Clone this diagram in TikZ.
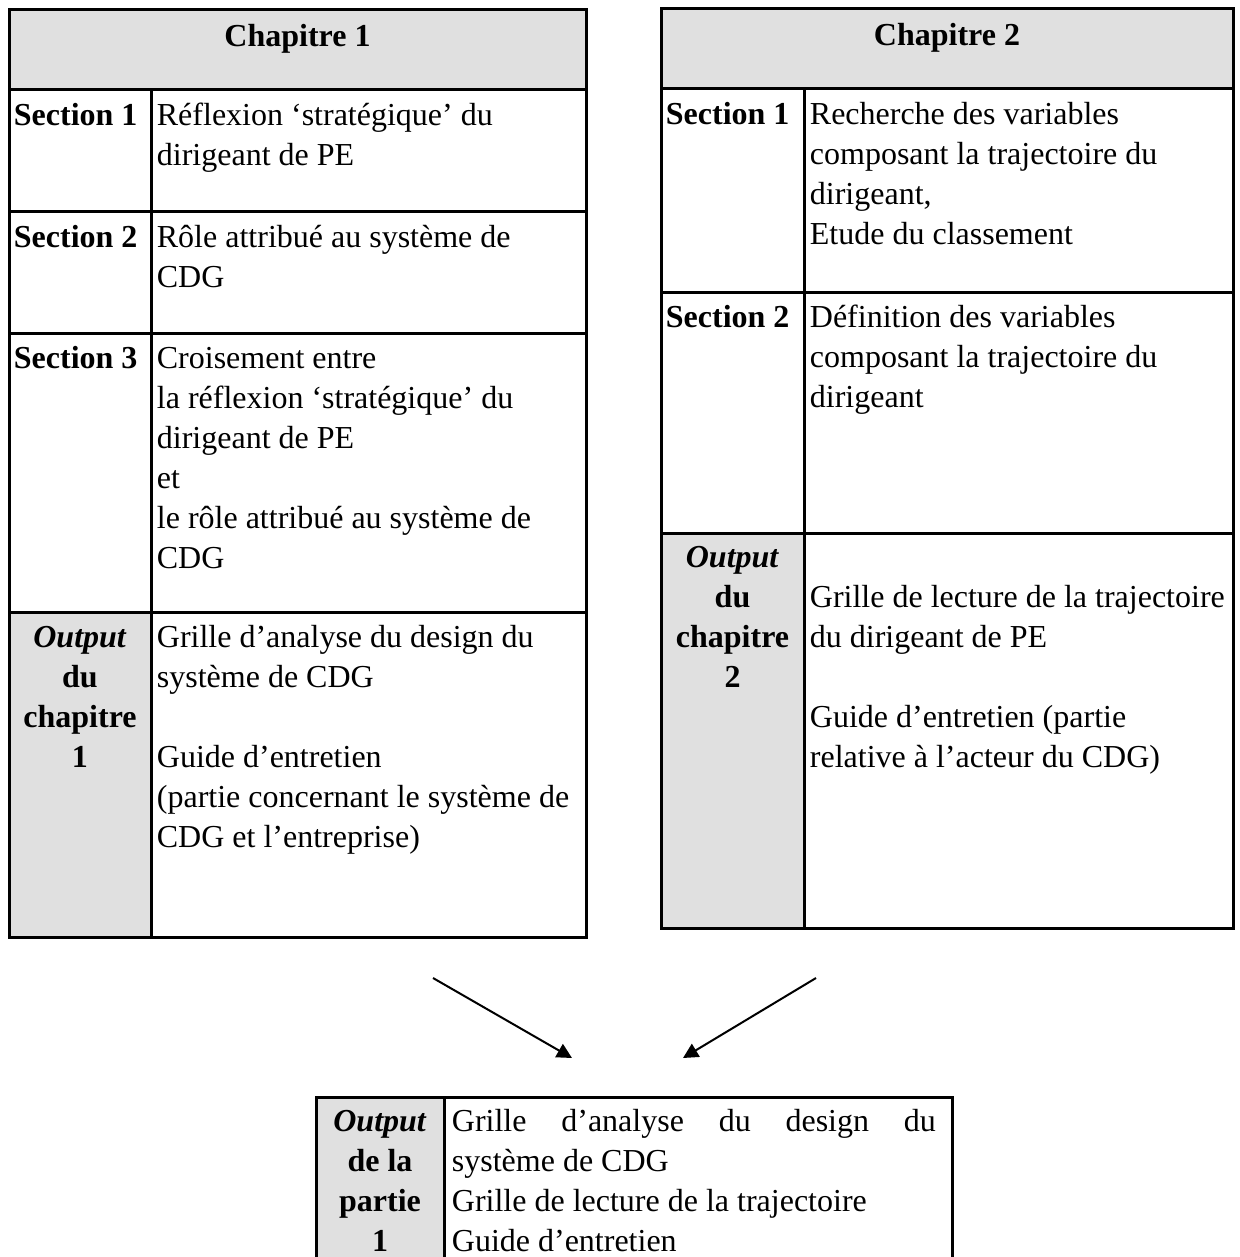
\documentclass[tikz,border=0pt]{standalone}
\usepackage{fontspec}
\setmainfont{Liberation Serif}
\usetikzlibrary{arrows.meta,calc,fit}
\definecolor{cellgrey}{HTML}{E0E0E0}
\tikzset{
  cellbox/.style={draw, line width=1.5pt, inner sep=0pt},
  greycell/.style={cellbox, fill=cellgrey},
  celltext/.style={font=\fontsize{16}{20}\selectfont, inner sep=0pt, align=left, anchor=north west},
  labeltext/.style={font=\fontsize{16}{20}\selectfont\bfseries, inner sep=0pt, align=center, anchor=north},
  flow/.style={line width=1pt, -{Triangle[length=7.5pt,width=7.5pt]}}
}
\begin{document}
\begin{tikzpicture}[x=0.5pt, y=-0.5pt]
\useasboundingbox (0,0) rectangle (1239,1257);

% Chapitre 1
\node[greycell, fit={(9,10) (586,90)}] (ch1head) {};
\node[cellbox, fit={(9,90) (151,212)}] (ch1s1lab) {};
\node[cellbox, fit={(151,90) (586,212)}] (ch1s1txt) {};
\node[cellbox, fit={(9,212) (151,333)}] (ch1s2lab) {};
\node[cellbox, fit={(151,212) (586,333)}] (ch1s2txt) {};
\node[cellbox, fit={(9,333) (151,612)}] (ch1s3lab) {};
\node[cellbox, fit={(151,333) (586,612)}] (ch1s3txt) {};
\node[greycell, fit={(9,612) (151,937)}] (ch1outlab) {};
\node[cellbox, fit={(151,612) (586,937)}] (ch1outtxt) {};

\node[labeltext] (ch1title) at ($(ch1head.north)+(0,10)$) {\strut Chapitre 1};
\node[labeltext, anchor=north west] (ch1s1name) at ($(ch1s1lab.north west)+(6,9)$) {\strut Section 1};
\node[labeltext, anchor=north west] (ch1s2name) at ($(ch1s2lab.north west)+(6,9)$) {\strut Section 2};
\node[labeltext, anchor=north west] (ch1s3name) at ($(ch1s3lab.north west)+(6,9)$) {\strut Section 3};
\node[labeltext] (ch1outname) at ($(ch1outlab.north)+(0,9)$) {\strut\textit{Output}\\du\\chapitre\\1};

\node[celltext] (ch1s1body) at ($(ch1s1txt.north west)+(7,9)$)
{\strut Réflexion ‘stratégique’ du\\dirigeant de PE};
\node[celltext] (ch1s2body) at ($(ch1s2txt.north west)+(7,9)$)
{\strut Rôle attribué au système de\\CDG};
\node[celltext] (ch1s3body) at ($(ch1s3txt.north west)+(7,9)$)
{\strut Croisement entre\\la réflexion ‘stratégique’ du\\dirigeant de PE\\et\\le rôle attribué au système de\\CDG};
\node[celltext] (ch1outbody) at ($(ch1outtxt.north west)+(7,9)$)
{\strut Grille d’analyse du design du\\système de CDG\\[20pt]Guide d’entretien\\(partie concernant le système de\\CDG et l’entreprise)};

% Chapitre 2
\node[greycell, fit={(661,9) (1233,89)}] (ch2head) {};
\node[cellbox, fit={(661,89) (804,292)}] (ch2s1lab) {};
\node[cellbox, fit={(804,89) (1233,292)}] (ch2s1txt) {};
\node[cellbox, fit={(661,292) (804,533)}] (ch2s2lab) {};
\node[cellbox, fit={(804,292) (1233,533)}] (ch2s2txt) {};
\node[greycell, fit={(661,533) (804,928)}] (ch2outlab) {};
\node[cellbox, fit={(804,533) (1233,928)}] (ch2outtxt) {};

\node[labeltext] (ch2title) at ($(ch2head.north)+(0,10)$) {\strut Chapitre 2};
\node[labeltext, anchor=north west] (ch2s1name) at ($(ch2s1lab.north west)+(6,9)$) {\strut Section 1};
\node[labeltext, anchor=north west] (ch2s2name) at ($(ch2s2lab.north west)+(6,9)$) {\strut Section 2};
\node[labeltext] (ch2outname) at ($(ch2outlab.north)+(0,8)$) {\strut\textit{Output}\\du\\chapitre\\2};

\node[celltext] (ch2s1body) at ($(ch2s1txt.north west)+(7,9)$)
{\strut Recherche des variables\\composant la trajectoire du\\dirigeant,\\Etude du classement};
\node[celltext] (ch2s2body) at ($(ch2s2txt.north west)+(7,9)$)
{\strut Définition des variables\\composant la trajectoire du\\dirigeant};
\node[celltext] (ch2outbody) at ($(ch2outtxt.north west)+(7,48)$)
{\strut Grille de lecture de la trajectoire\\du dirigeant de PE\\[20pt]Guide d’entretien (partie\\relative à l’acteur du CDG)};

% sortie de la partie 1
\node[greycell, fit={(316,1097) (444,1290)}] (p1outlab) {};
\node[cellbox, fit={(444,1097) (952,1290)}] (p1outtxt) {};

\node[labeltext] (p1outname) at ($(p1outlab.north)+(0,8)$) {\strut\textit{Output}\\de la\\partie\\1};
\node[celltext] (p1outbody) at ($(p1outtxt.north west)+(9,8)$)
{\strut\makebox[242pt][s]{Grille d’analyse du design du}\\système de CDG\\Grille de lecture de la trajectoire\\Guide d’entretien};

% fleches
\coordinate (flowLfrom) at (433,978);
\coordinate (flowLto) at (572,1058);
\coordinate (flowRfrom) at (816,978);
\coordinate (flowRto) at (683,1058);
\draw[flow] (flowLfrom) -- (flowLto);
\draw[flow] (flowRfrom) -- (flowRto);

\end{tikzpicture}
\end{document}
